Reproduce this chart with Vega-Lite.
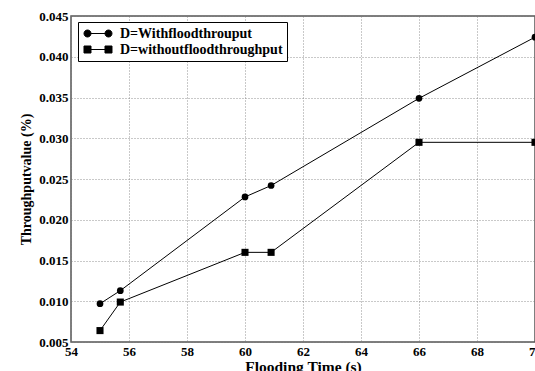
{
  "$schema": "https://vega.github.io/schema/vega-lite/v6.json",
  "width": 464,
  "height": 326,
  "autosize": {"type": "none"},
  "padding": {"left": 71, "top": 16, "right": 0, "bottom": 29},
  "background": "white",
  "config": {
    "font": "serif",
    "view": {"stroke": "#555", "strokeWidth": 1.5},
    "axis": {
      "labelFont": "serif",
      "labelFontWeight": "bold",
      "labelFontSize": 13,
      "labelColor": "black",
      "titleFont": "serif",
      "titleFontWeight": "bold",
      "titleFontSize": 14,
      "titleColor": "black",
      "domain": false,
      "ticks": false,
      "gridColor": "#777",
      "gridDash": [1, 2],
      "gridOpacity": 1,
      "gridWidth": 0.8
    }
  },
  "data": {
    "values": [
      {"t": 55.0, "v": 0.0097, "s": "D=Withfloodthrouput"},
      {"t": 55.7, "v": 0.0113, "s": "D=Withfloodthrouput"},
      {"t": 60.0, "v": 0.0228, "s": "D=Withfloodthrouput"},
      {"t": 60.9, "v": 0.0242, "s": "D=Withfloodthrouput"},
      {"t": 66.0, "v": 0.0349, "s": "D=Withfloodthrouput"},
      {"t": 70.0, "v": 0.0424, "s": "D=Withfloodthrouput"},
      {"t": 55.0, "v": 0.0064, "s": "D=withoutfloodthroughput"},
      {"t": 55.7, "v": 0.0099, "s": "D=withoutfloodthroughput"},
      {"t": 60.0, "v": 0.0160, "s": "D=withoutfloodthroughput"},
      {"t": 60.9, "v": 0.0160, "s": "D=withoutfloodthroughput"},
      {"t": 66.0, "v": 0.0295, "s": "D=withoutfloodthroughput"},
      {"t": 70.0, "v": 0.0295, "s": "D=withoutfloodthroughput"}
    ]
  },
  "encoding": {
    "x": {
      "field": "t", "type": "quantitative",
      "scale": {"domain": [54, 70], "nice": false, "zero": false},
      "axis": {"values": [54, 56, 58, 60, 62, 64, 66, 68, 70], "format": "d", "title": "Flooding Time (s)", "titleFontSize": 15.5, "labelPadding": 3, "titlePadding": 1, "labelFlush": false, "labelOverlap": false}
    },
    "y": {
      "field": "v", "type": "quantitative",
      "scale": {"domain": [0.005, 0.045], "nice": false, "zero": false},
      "axis": {"values": [0.005, 0.01, 0.015, 0.02, 0.025, 0.03, 0.035, 0.04, 0.045], "format": ".3f", "title": "Throughputvalue (%)", "labelPadding": 3, "titlePadding": 5, "labelFlush": false, "labelOverlap": false}
    }
  },
  "layer": [
    {
      "mark": {"type": "line", "strokeWidth": 1, "clip": false},
      "encoding": {
        "color": {
          "field": "s", "type": "nominal",
          "scale": {"domain": ["D=Withfloodthrouput", "D=withoutfloodthroughput"], "range": ["black", "black"]},
          "legend": {
            "title": null,
            "orient": "none",
            "legendX": 7,
            "legendY": 6,
            "padding": 4,
            "fillColor": "white",
            "strokeColor": "black",
            "labelFont": "serif",
            "labelFontWeight": "bold",
            "labelFontSize": 14,
            "labelColor": "black",
            "labelLimit": 400,
            "labelOffset": 23,
            "symbolSize": 196,
            "symbolStrokeWidth": 1,
            "symbolFillColor": "black",
            "symbolStrokeColor": "black",
            "symbolOpacity": 1,
            "rowPadding": 1,
            "encode": {
              "symbols": {
                "update": {
                  "shape": {"signal": "datum.value === 'D=Withfloodthrouput' ? 'M-0.286,0H2.714M-0.786,0A0.5,0.5 0 1,0 0.214,0A0.5,0.5 0 1,0 -0.786,0ZM2.214,0A0.5,0.5 0 1,0 3.214,0A0.5,0.5 0 1,0 2.214,0Z' : 'M-0.286,0H2.714M-0.786,-0.5H0.214V0.5H-0.786ZM2.214,-0.5H3.214V0.5H2.214Z'"},
                  "fill": {"value": "black"}
                }
              }
            }
          }
        }
      }
    },
    {
      "transform": [{"filter": "datum.s === 'D=Withfloodthrouput'"}],
      "mark": {"type": "point", "shape": "circle", "filled": true, "color": "black", "opacity": 1, "size": 45, "clip": false}
    },
    {
      "transform": [{"filter": "datum.s === 'D=withoutfloodthroughput'"}],
      "mark": {"type": "point", "shape": "square", "filled": true, "color": "black", "opacity": 1, "size": 50, "clip": false}
    }
  ]
}
